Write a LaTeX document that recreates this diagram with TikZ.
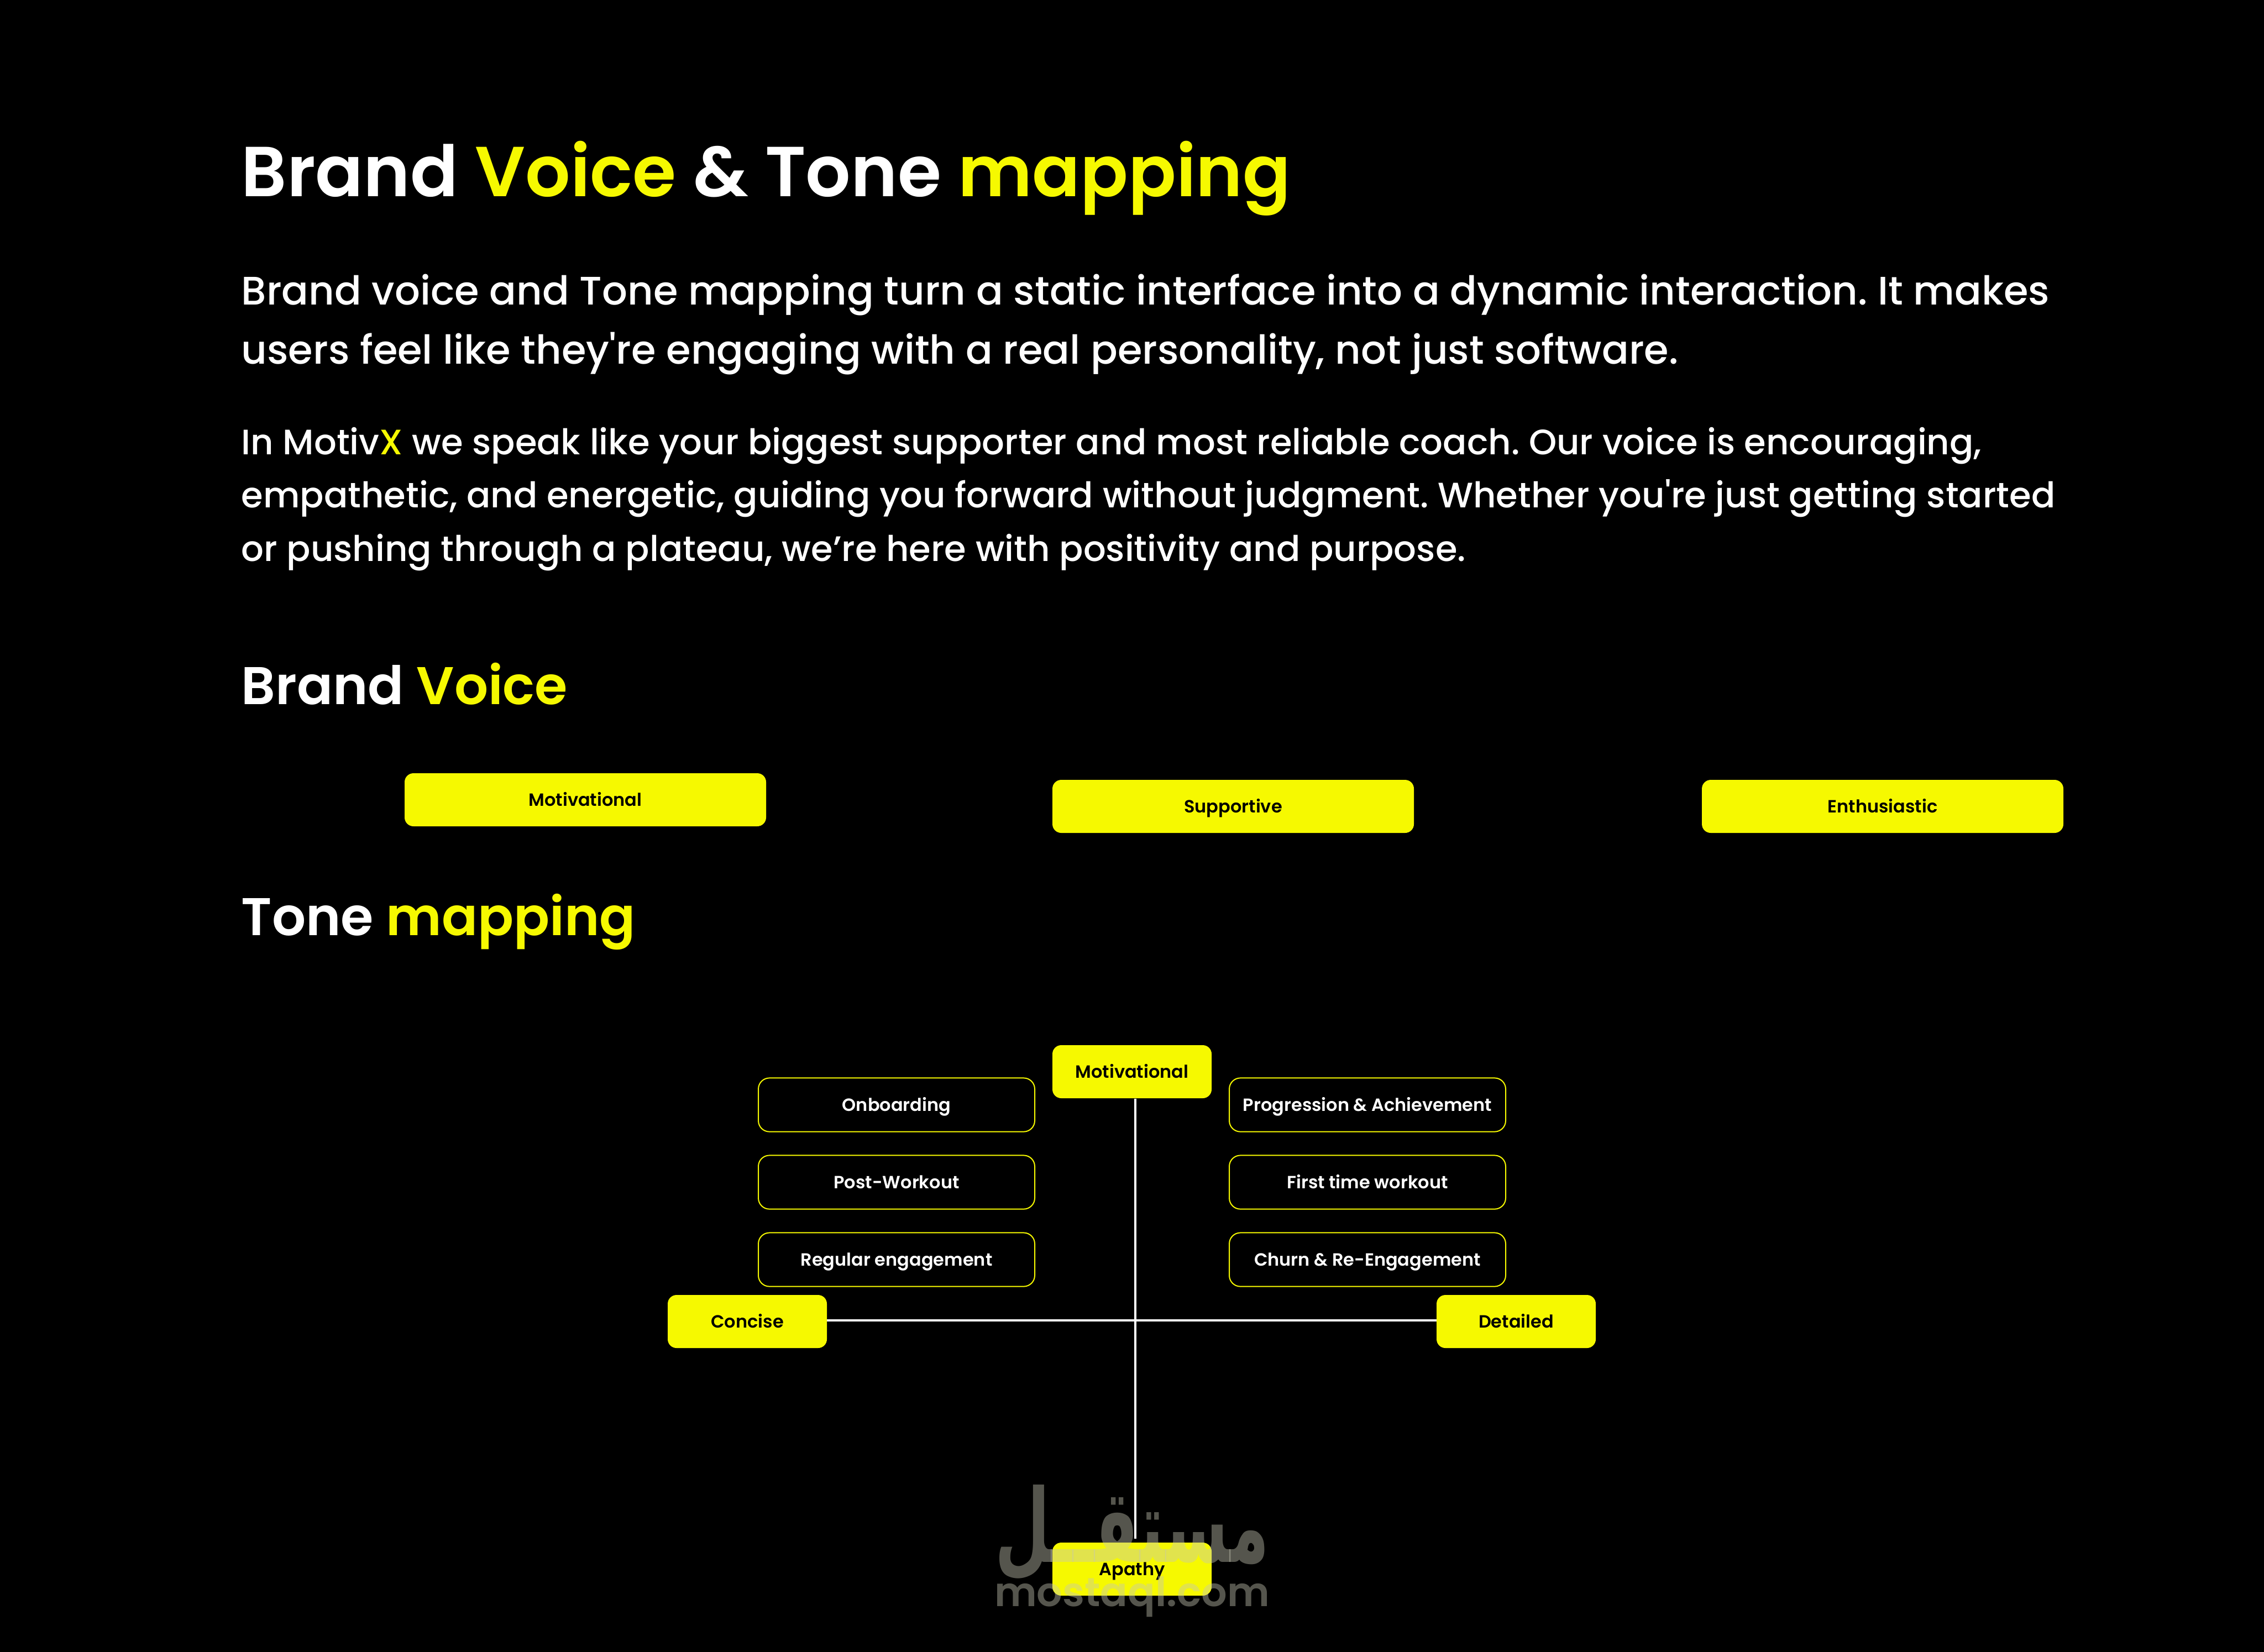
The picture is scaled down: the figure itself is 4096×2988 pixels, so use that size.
\documentclass[tikz,border=0pt]{standalone}
\usepackage{fontspec}
\TeXXeTstate=1
\newfontfamily\pmed{Poppins Medium}
\newfontfamily\psemi{Poppins SemiBold}
\newfontfamily\arabicfont[Script=Arabic]{DejaVu Sans Bold}
\definecolor{yel}{HTML}{F6F900}
\definecolor{wm}{HTML}{C6C6B3}
\newcommand{\ys}[1]{\textcolor{yel}{#1}}
\frenchspacing
\tikzset{
  x=0.25pt,y=-0.25pt,
  tline/.style={anchor=base west,inner sep=0pt,text=white},
  ttitle/.style={tline,font=\psemi\fontsize{32}{32}\selectfont},
  thead/.style={tline,font=\psemi\fontsize{24}{24}\selectfont},
  tlead/.style={tline,font=\pmed\fontsize{18}{20}\selectfont},
  tbody/.style={tline,font=\pmed\fontsize{16}{18}\selectfont},
  ybox/.style={fill=yel,rounded corners=4pt,inner sep=0pt,minimum height=24pt,text=black,text height=5.5pt,text depth=0pt,font=\psemi\fontsize{8}{9}\selectfont},
  obox/.style={draw=yel,line width=0.5pt,rounded corners=5pt,inner sep=0pt,minimum width=125pt,minimum height=24.3pt,text=white,text height=5.5pt,text depth=0pt,font=\psemi\fontsize{8}{9}\selectfont},
  widebox/.style={ybox,minimum width=163.5pt},
  smallbox/.style={ybox,minimum width=72pt},
  axisline/.style={draw=white,line width=1pt},
  wmark/.style={inner sep=0pt,text=wm,opacity=0.43}
}
\begin{document}
\begin{tikzpicture}
\useasboundingbox (0,0) rectangle (4096,2988);
\fill[black] (-20,-20) rectangle (4116,3008);
\node[ttitle] (t1) at (436,355) {Brand \ys{Voice} \& Tone \ys{mapping}};
\node[tlead] (l1) at (436,551) {Brand voice and Tone mapping turn a static interface into a dynamic interaction. It makes};
\node[tlead] (l2) at (436,658) {users feel like they\textquotesingle re engaging with a real personality, not just software.};
\node[tbody] (b1) at (436,822) {In Motiv\ys{X} we speak like your biggest supporter and most reliable coach. Our voice is encouraging,};
\node[tbody] (b2) at (436,918) {empathetic, and energetic, guiding you forward without judgment. Whether you\textquotesingle re just getting started};
\node[tbody] (b3) at (436,1015) {or pushing through a plateau, we’re here with positivity and purpose.};
\node[thead] (h1) at (436,1274) {Brand \ys{Voice}};
\node[thead] (h2) at (436,1692) {Tone \ys{mapping}};
\node[widebox] (v1) at (1059,1447) {Motivational};
\node[widebox] (v2) at (2231,1459) {Supportive};
\node[widebox] (v3) at (3406,1459) {Enthusiastic};
\coordinate (vtop) at (2054,1988);
\coordinate (vbot) at (2054,2784);
\coordinate (hl) at (1496,2389);
\coordinate (hr) at (2600,2389);
\draw[axisline] (vtop) -- (vbot);
\draw[axisline] (hl) -- (hr);
\node[smallbox] (motiv) at (2048,1939) {Motivational};
\node[smallbox] (apathy) at (2048,2839) {Apathy};
\node[smallbox] (concise) at (1352,2391) {Concise};
\node[smallbox] (detailed) at (2743,2391) {Detailed};
\node[obox] (o1) at (1622,1999) {Onboarding};
\node[obox] (o2) at (1622,2139) {Post-Workout};
\node[obox] (o3) at (1622,2279) {Regular engagement};
\node[obox] (p1) at (2474,1999) {Progression \& Achievement};
\node[obox] (p2) at (2474,2139) {First time workout};
\node[obox] (p3) at (2474,2279) {Churn \& Re-Engagement};
\node[wmark] (wa) at (2048,2773) {\resizebox{124pt}{35pt}{\arabicfont\beginR مستقــل\endR}};
\node[wmark,anchor=base] (wb) at (2048,2906) {\resizebox{124.5pt}{!}{\psemi mostaql.com}};
\end{tikzpicture}
\end{document}
